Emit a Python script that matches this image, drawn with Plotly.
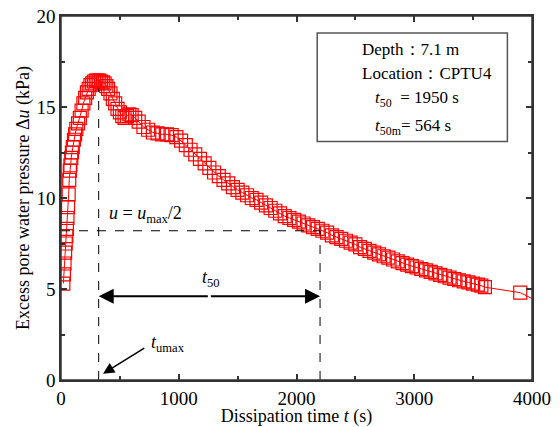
import plotly.graph_objects as go

# Dissipation test data
time_s = [20, 25, 30, 35, 40, 45, 50, 55, 60, 65, 70, 75, 80, 87, 93, 100, 110, 120, 130, 145,
          160, 175, 190, 205, 220, 235, 250, 265, 280, 295, 310, 325, 340, 355, 370, 385, 400,
          420, 440, 460, 480, 500, 520, 540, 560, 580, 600, 630, 660, 700, 740, 780, 820, 860,
          900, 940, 980, 1020, 1060, 1100, 1140, 1180, 1220, 1260, 1300, 1340, 1380, 1420,
          1460, 1500, 1540, 1580, 1620, 1660, 1700, 1740, 1780, 1820, 1860, 1900, 1940, 1980,
          2020, 2060, 2100, 2140, 2180, 2220, 2260, 2300, 2340, 2380, 2420, 2460, 2500, 2540,
          2580, 2620, 2660, 2700, 2740, 2780, 2820, 2860, 2900, 2940, 2980, 3020, 3060, 3100,
          3140, 3180, 3220, 3260, 3300, 3340, 3380, 3420, 3460, 3500, 3540, 3570, 3600, 3900,
          4100]
pressure_kpa = [5.3, 5.8, 6.4, 7.0, 7.5, 7.9, 8.3, 8.9, 9.5, 10.2, 11.0, 11.5, 11.8, 12.2, 12.5,
                12.8, 13.2, 13.5, 13.8, 14.1, 14.4, 14.8, 15.2, 15.5, 15.8, 16.0, 16.2, 16.3,
                16.4, 16.45, 16.45, 16.45, 16.4, 16.35, 16.3, 16.15, 16.0, 15.75, 15.45, 15.2,
                14.9, 14.7, 14.5, 14.4, 14.5, 14.6, 14.55, 14.4, 14.2, 13.9, 13.75, 13.6, 13.55,
                13.5, 13.5, 13.45, 13.35, 13.15, 12.9, 12.65, 12.4, 12.15, 11.9, 11.65, 11.4,
                11.2, 11.0, 10.8, 10.6, 10.45, 10.3, 10.15, 10.0, 9.9, 9.75, 9.6, 9.45, 9.3,
                9.15, 9.0, 8.9, 8.8, 8.7, 8.6, 8.5, 8.4, 8.3, 8.2, 8.1, 7.95, 7.85, 7.75, 7.65,
                7.55, 7.45, 7.3, 7.2, 7.1, 7.0, 6.9, 6.8, 6.72, 6.62, 6.52, 6.42, 6.34, 6.26,
                6.18, 6.1, 6.02, 5.94, 5.86, 5.78, 5.7, 5.62, 5.55, 5.48, 5.42, 5.36, 5.3, 5.24,
                5.18, 5.1, 4.8, 4.15]

# Reference lines
t_umax = 320
t_half = 2200
u_half = 8.2
u_peak = 16.0

serif = "Liberation Serif, Times New Roman, serif"

fig = go.Figure()
fig.add_trace(go.Scatter(
    x=time_s, y=pressure_kpa, mode="lines+markers",
    line=dict(color="red", width=1),
    marker=dict(symbol="square-open", size=13, color="red", line=dict(width=1.2)),
    showlegend=False,
))

dash = dict(color="black", width=1, dash="dash")
fig.add_shape(type="line", x0=t_umax, x1=t_umax, y0=0, y1=u_peak, line=dash)
fig.add_shape(type="line", x0=0, x1=t_half, y0=u_half, y1=u_half, line=dash)
fig.add_shape(type="line", x0=t_half, x1=t_half, y0=0, y1=u_half, line=dash)

# frame round the plot area
fig.add_shape(type="rect", xref="paper", yref="paper", x0=0, x1=1, y0=0, y1=1,
              line=dict(color="#333333", width=1.5))

# Info box
fig.add_shape(type="rect", x0=2176, x1=3791, y0=13.1, y1=19.07,
              line=dict(color="#555555", width=1.5), fillcolor="white")

# Double arrow for t50
mid = (t_umax + t_half) / 2
for tip in (t_umax, t_half):
    fig.add_annotation(x=tip, y=4.6, ax=mid, ay=4.6, xref="x", yref="y",
                       axref="x", ayref="y", text="", showarrow=True,
                       arrowhead=2, arrowsize=1.5, arrowwidth=2, arrowcolor="black")

# Arrow for t_umax
fig.add_annotation(x=357, y=0.35, ax=720, ay=1.8, xref="x", yref="y",
                   axref="x", ayref="y", text="", showarrow=True,
                   arrowhead=2, arrowsize=1.5, arrowwidth=1.5, arrowcolor="black")

txt = dict(family=serif, size=18, color="black")
fig.add_annotation(x=1270, y=5.6, text="<i>t</i><sub>50</sub>", showarrow=False, font=txt)
fig.add_annotation(x=390, y=9.1, text="<i>u</i> = <i>u</i><sub>max</sub>/2",
                   showarrow=False, font=txt, xanchor="left")
fig.add_annotation(x=750, y=2.0, text="<i>t</i><sub>umax</sub>", showarrow=False,
                   font=txt, xanchor="left")

box = dict(family=serif, size=17, color="black")
fig.add_annotation(x=2540, y=18.15, text="Depth：7.1 m", showarrow=False, font=box, xanchor="left")
fig.add_annotation(x=2540, y=16.85, text="Location：CPTU4", showarrow=False, font=box, xanchor="left")
fig.add_annotation(x=2650, y=15.45, text="<i>t</i><sub>50</sub>  = 1950 s", showarrow=False,
                   font=box, xanchor="left")
fig.add_annotation(x=2650, y=13.9, text="<i>t</i><sub>50m</sub>= 564 s", showarrow=False,
                   font=box, xanchor="left")

axis_common = dict(
    showline=True, linecolor="#333333", linewidth=1.5, mirror="ticks",
    ticks="inside", ticklen=6, tickcolor="#333333", tickwidth=1.5,
    showgrid=False, zeroline=False, automargin=False,
    tickfont=dict(family=serif, size=19, color="black"),
)
fig.update_xaxes(range=[0, 4000], dtick=1000,
                 minor=dict(dtick=500, ticks="inside", ticklen=4, tickcolor="#333333"),
                 title=dict(text="Dissipation time <i>t</i> (s)", standoff=4,
                            font=dict(family=serif, size=18, color="black")),
                 **axis_common)
fig.update_yaxes(range=[0, 20], dtick=5,
                 minor=dict(dtick=2.5, ticks="inside", ticklen=4, tickcolor="#333333"),
                 title=dict(text="Excess pore water pressure Δ<i>u</i> (kPa)", standoff=2,
                            font=dict(family=serif, size=18, color="black")),
                 **axis_common)

fig.update_layout(
    width=560, height=427,
    margin=dict(l=61, r=28, t=16, b=47),
    paper_bgcolor="white", plot_bgcolor="white",
)

# drop the default 8px page margin so the figure sits at the window corner
fig.write_html("out.html", config={"displayModeBar": False},
               post_script="document.body.style.margin='0';")
